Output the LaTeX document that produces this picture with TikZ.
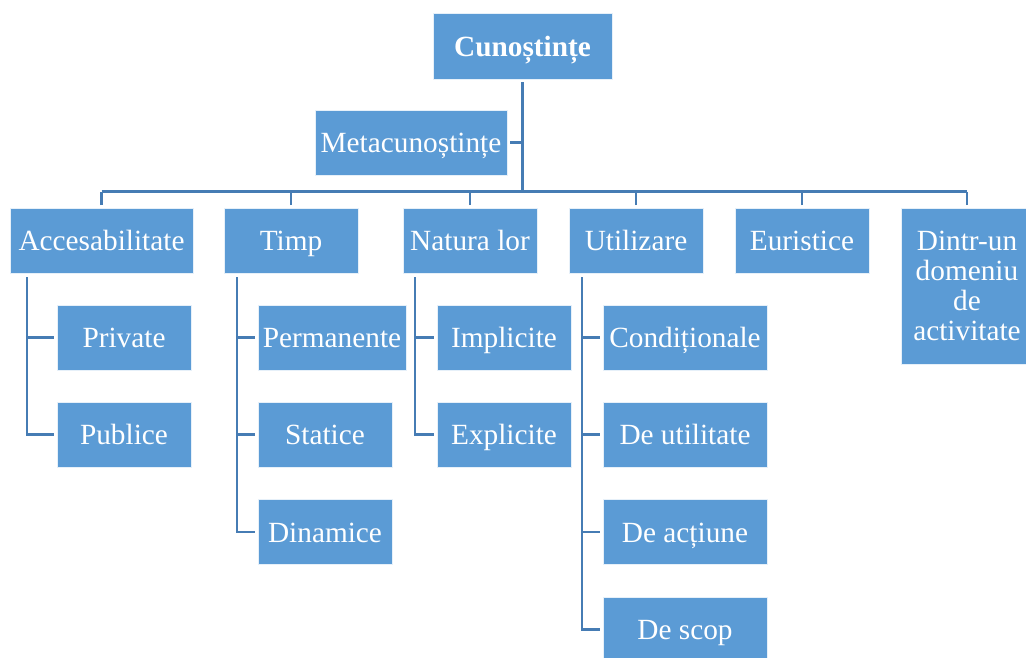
\documentclass[tikz,border=0pt]{standalone}
\usepackage{fontspec}
\setmainfont{Liberation Serif}
\definecolor{boxfill}{RGB}{91,155,213}
\definecolor{linkcol}{RGB}{70,124,180}
\begin{document}
\begin{tikzpicture}[x=1pt,y=-1pt,
  box/.style={rectangle, fill=boxfill, draw=white!85!boxfill, line width=0.8pt,
    text=white, inner sep=2pt, outer sep=3pt, align=center,
    font=\fontsize{29.3}{30}\selectfont},
  onerow/.style={box, text height=20pt, text depth=0pt},
  link/.style={draw=linkcol, line width=2.6pt}]
\useasboundingbox (0,0) rectangle (1026,657);
\clip (0,0) rectangle (1026,657);

% top of the hierarchy
\node[onerow, minimum width=179pt, minimum height=66pt, font=\fontsize{29.3}{30}\selectfont\bfseries] (root) at (522.5,46) {Cunoștințe};
\node[onerow, minimum width=192pt, minimum height=65pt] (meta) at (411,142.5) {Metacunoștințe};

% first level
\node[onerow, minimum width=183pt, minimum height=65pt] (acc) at (101.5,240.5) {Accesabilitate};
\node[onerow, minimum width=134pt, minimum height=65pt] (timp) at (291,240.5) {Timp};
\node[onerow, minimum width=134pt, minimum height=65pt] (nat) at (470,240.5) {Natura lor};
\node[onerow, minimum width=134pt, minimum height=65pt] (util) at (636,240.5) {Utilizare};
\node[onerow, minimum width=134pt, minimum height=65pt] (eur) at (802,240.5) {Euristice};
\node[box, minimum width=132pt, minimum height=156pt] (dom) at (967,286) {Dintr-un\\domeniu\\de\\activitate};

% second level
\node[onerow, minimum width=134pt, minimum height=65pt] (priv) at (124,337.5) {Private};
\node[onerow, minimum width=134pt, minimum height=65pt] (pub) at (124,434.5) {Publice};

\node[onerow, minimum width=148pt, minimum height=65pt] (perm) at (332,337.5) {Permanente};
\node[onerow, minimum width=134pt, minimum height=65pt] (stat) at (325,434.5) {Statice};
\node[onerow, minimum width=134pt, minimum height=65pt] (din) at (325,532) {Dinamice};

\node[onerow, minimum width=134pt, minimum height=65pt] (impl) at (504,337.5) {Implicite};
\node[onerow, minimum width=134pt, minimum height=65pt] (expl) at (504,434.5) {Explicite};

\node[onerow, minimum width=164pt, minimum height=65pt] (cond) at (685,337.5) {Condiționale};
\node[onerow, minimum width=164pt, minimum height=65pt] (utl) at (685,434.5) {De utilitate};
\node[onerow, minimum width=164pt, minimum height=65pt] (act) at (685,532) {De acțiune};
\node[onerow, minimum width=164pt, minimum height=65pt] (scop) at (685,629.5) {De scop};

% horizontal bus below the root
\coordinate (bus) at (0,191.5);
\draw[link] (root.south) -- (root.south |- bus);
\draw[link] (meta.east) -- (meta.east -| root.south);
\draw[link] (acc.north |- bus) -- (dom.north |- bus);
\foreach \n in {acc,timp,nat,util,eur,dom}
  \draw[link] (\n.north) -- (\n.north |- bus);

% spines down the left side of each group
\coordinate (spA) at (27,277);
\coordinate (spT) at (237,277);
\coordinate (spN) at (415,277);
\coordinate (spU) at (582,277);
\draw[link] (spA) |- (priv.west);
\draw[link] (spA) |- (pub.west);
\draw[link] (spT) |- (perm.west);
\draw[link] (spT) |- (stat.west);
\draw[link] (spT) |- (din.west);
\draw[link] (spN) |- (impl.west);
\draw[link] (spN) |- (expl.west);
\draw[link] (spU) |- (cond.west);
\draw[link] (spU) |- (utl.west);
\draw[link] (spU) |- (act.west);
\draw[link] (spU) |- (scop.west);
\end{tikzpicture}
\end{document}
